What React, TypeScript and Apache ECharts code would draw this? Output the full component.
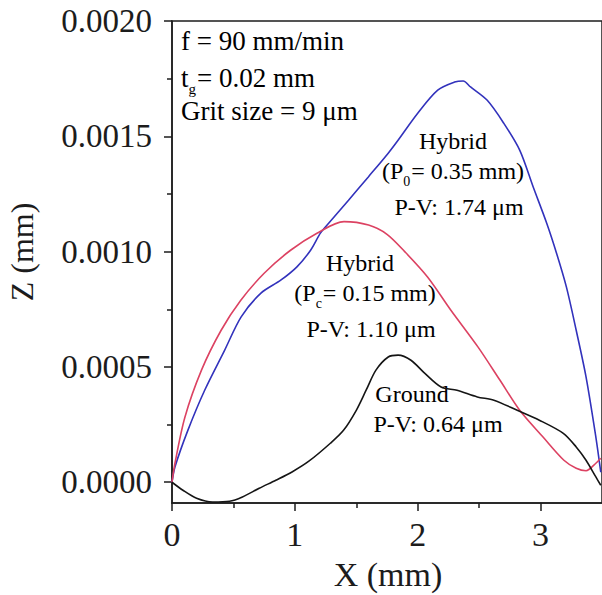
import React, { useEffect, useRef } from "react";
import * as echarts from "echarts";

// Profile X positions (mm) and heights Z (mm) for each surface
const hybrid035X = [0, 0.024, 0.129, 0.266, 0.428, 0.563, 0.724, 0.885, 1.017, 1.128, 1.208, 1.275, 1.437, 1.598, 1.76, 1.84, 2.0, 2.163, 2.3, 2.37, 2.43, 2.566, 2.7, 2.83, 2.94, 3.05, 3.13, 3.21, 3.29, 3.37, 3.45, 3.49];
const hybrid035Z = [0, 0.0000663, 0.000225, 0.000399, 0.000572, 0.000717, 0.00082, 0.000876, 0.000934, 0.001006, 0.00108, 0.001123, 0.001223, 0.001324, 0.001427, 0.001483, 0.0016, 0.0017, 0.001735, 0.00174, 0.001714, 0.001656, 0.001557, 0.00144, 0.00128, 0.001123, 0.000993, 0.000847, 0.000659, 0.000457, 0.000196, 0.0000434];

const hybrid015X = [0, 0.024, 0.105, 0.24, 0.4, 0.56, 0.75, 0.965, 1.18, 1.4, 1.6, 1.75, 1.894, 2.08, 2.27, 2.49, 2.67, 2.83, 3.02, 3.19, 3.29, 3.37, 3.45, 3.49];
const hybrid015Z = [0, 0.0000824, 0.000282, 0.000486, 0.000659, 0.000789, 0.000906, 0.001006, 0.00108, 0.00113, 0.001115, 0.001075, 0.001, 0.00089, 0.000746, 0.000587, 0.000442, 0.000312, 0.000196, 0.0000954, 0.0000607, 0.00005, 0.0000824, 0.000104];

const groundX = [0, 0.089, 0.2, 0.33, 0.468, 0.573, 0.71, 0.845, 0.977, 1.114, 1.289, 1.396, 1.5, 1.58, 1.66, 1.76, 1.84, 1.945, 2.056, 2.19, 2.32, 2.485, 2.62, 2.81, 2.99, 3.185, 3.29, 3.37, 3.45, 3.49];
const groundZ = [0, -0.0000347, -0.0000694, -0.0000854, -0.0000824, -0.0000637, -0.000026, 0.0000087, 0.0000447, 0.0000911, 0.000169, 0.000225, 0.000312, 0.000399, 0.000486, 0.000543, 0.000551, 0.000529, 0.000473, 0.000413, 0.000399, 0.00037, 0.000356, 0.000312, 0.000269, 0.000212, 0.000153, 0.0000954, 0.000023, -0.000013];

// Axis ticks
const xMajorTicks = [0, 1, 2, 3];
const xMinorTicks = [0.5, 1.5, 2.5];
const zMajorTicks = [0, 0.0005, 0.001, 0.0015, 0.002];
const zMinorTicks = [0.00025, 0.00075, 0.00125, 0.00175];

const FONT = "Liberation Serif";
const INK = "#1c1c1c";

const zip = (xs: number[], ys: number[]) => xs.map((x, i) => [x, ys[i]]);

export default function App() {
  const ref = useRef<HTMLDivElement>(null);

  useEffect(() => {
    if (!ref.current) return;
    const chart = echarts.init(ref.current, undefined, { renderer: "svg" });

    const labelRich = {
      m: { fontSize: 24, fontFamily: FONT, color: INK, verticalAlign: "top" as const, lineHeight: 26 },
      s: { fontSize: 14, fontFamily: FONT, color: INK, verticalAlign: "top" as const, lineHeight: 14, padding: [15, 1, 0, 0] },
    };
    const noteRich = {
      m: { fontSize: 27, fontFamily: FONT, color: INK, verticalAlign: "top" as const, lineHeight: 29 },
      s: { fontSize: 15, fontFamily: FONT, color: INK, verticalAlign: "top" as const, lineHeight: 15, padding: [17, 1, 0, 0] },
    };

    const note = (text: string, x: number, y: number, rich: any, align: string = "center") => ({
      type: "text",
      x,
      y,
      style: { text, rich, align, verticalAlign: "middle", fontFamily: FONT },
    });

    const minorAxis = {
      type: "value",
      axisLine: { show: false, onZero: false },
      axisLabel: { show: false },
      splitLine: { show: false },
    };

    chart.setOption({
      animation: false,
      backgroundColor: "#ffffff",
      grid: {
        left: 172,
        top: 21,
        width: 434,
        height: 482,
        show: true,
        borderColor: INK,
        borderWidth: 1.5,
        backgroundColor: "transparent",
      },
      xAxis: [
        {
          type: "value",
          min: 0,
          max: 3.5,
          position: "bottom",
          axisLine: { show: true, onZero: false, lineStyle: { color: INK, width: 1.5 } },
          axisTick: { show: true, customValues: xMajorTicks, length: 8, lineStyle: { color: INK, width: 1.5 } },
          axisLabel: {
            customValues: xMajorTicks,
            margin: 14,
            fontSize: 34,
            fontFamily: FONT,
            color: INK,
            formatter: (v: number) => String(v),
          },
          splitLine: { show: false },
        },
        {
          ...minorAxis,
          min: 0,
          max: 3.5,
          position: "bottom",
          axisTick: { show: true, customValues: xMinorTicks, length: 5, lineStyle: { color: INK, width: 1.5 } },
        },
      ],
      yAxis: [
        {
          type: "value",
          min: -0.00009,
          max: 0.002,
          position: "left",
          axisLine: { show: true, onZero: false, lineStyle: { color: INK, width: 1.5 } },
          axisTick: { show: true, customValues: zMajorTicks, length: 8, lineStyle: { color: INK, width: 1.5 } },
          axisLabel: {
            customValues: zMajorTicks,
            margin: 20,
            fontSize: 33,
            fontFamily: FONT,
            color: INK,
            formatter: (v: number) => v.toFixed(4),
          },
          splitLine: { show: false },
        },
        {
          ...minorAxis,
          min: -0.00009,
          max: 0.002,
          position: "left",
          axisTick: { show: true, customValues: zMinorTicks, length: 5, lineStyle: { color: INK, width: 1.5 } },
        },
      ],
      series: [
        {
          name: "Hybrid (P0 = 0.35 mm)",
          type: "line",
          data: zip(hybrid035X, hybrid035Z),
          smooth: 0.3,
          symbol: "none",
          lineStyle: { color: "#3232bc", width: 1.6 },
        },
        {
          name: "Hybrid (Pc = 0.15 mm)",
          type: "line",
          data: zip(hybrid015X, hybrid015Z),
          smooth: 0.3,
          symbol: "none",
          lineStyle: { color: "#dc4262", width: 1.6 },
        },
        {
          name: "Ground",
          type: "line",
          data: zip(groundX, groundZ),
          smooth: 0.3,
          symbol: "none",
          lineStyle: { color: "#151515", width: 1.6 },
        },
      ],
      graphic: [
        {
          type: "text",
          x: 22,
          y: 252,
          rotation: Math.PI / 2,
          style: { text: "Z (mm)", fontSize: 32, fontFamily: FONT, fill: INK, align: "center", verticalAlign: "middle" },
        },
        {
          type: "text",
          x: 388,
          y: 574,
          style: { text: "X (mm)", fontSize: 34, fontFamily: FONT, fill: INK, align: "center", verticalAlign: "middle" },
        },
        note("{m|f = 90 mm/min}", 181, 42, noteRich, "left"),
        note("{m|t}{s|g}{m|= 0.02 mm}", 181, 79, noteRich, "left"),
        note("{m|Grit size = 9 μm}", 181, 112, noteRich, "left"),
        note("{m|Hybrid}", 453, 142, labelRich),
        note("{m|(P}{s|0}{m|= 0.35 mm)}", 453, 172, labelRich),
        note("{m|P-V: 1.74 μm}", 459, 208, labelRich),
        note("{m|Hybrid}", 360, 264, labelRich),
        note("{m|(P}{s|c}{m|= 0.15 mm)}", 365, 294, labelRich),
        note("{m|P-V: 1.10 μm}", 371, 330, labelRich),
        note("{m|Ground}", 412, 395, labelRich),
        note("{m|P-V: 0.64 μm}", 438, 425, labelRich),
      ],
    });

    return () => chart.dispose();
  }, []);

  return (
    <div
      ref={ref}
      style={{ position: "absolute", left: 0, top: 0, width: 602, height: 595, background: "#fff" }}
    />
  );
}
